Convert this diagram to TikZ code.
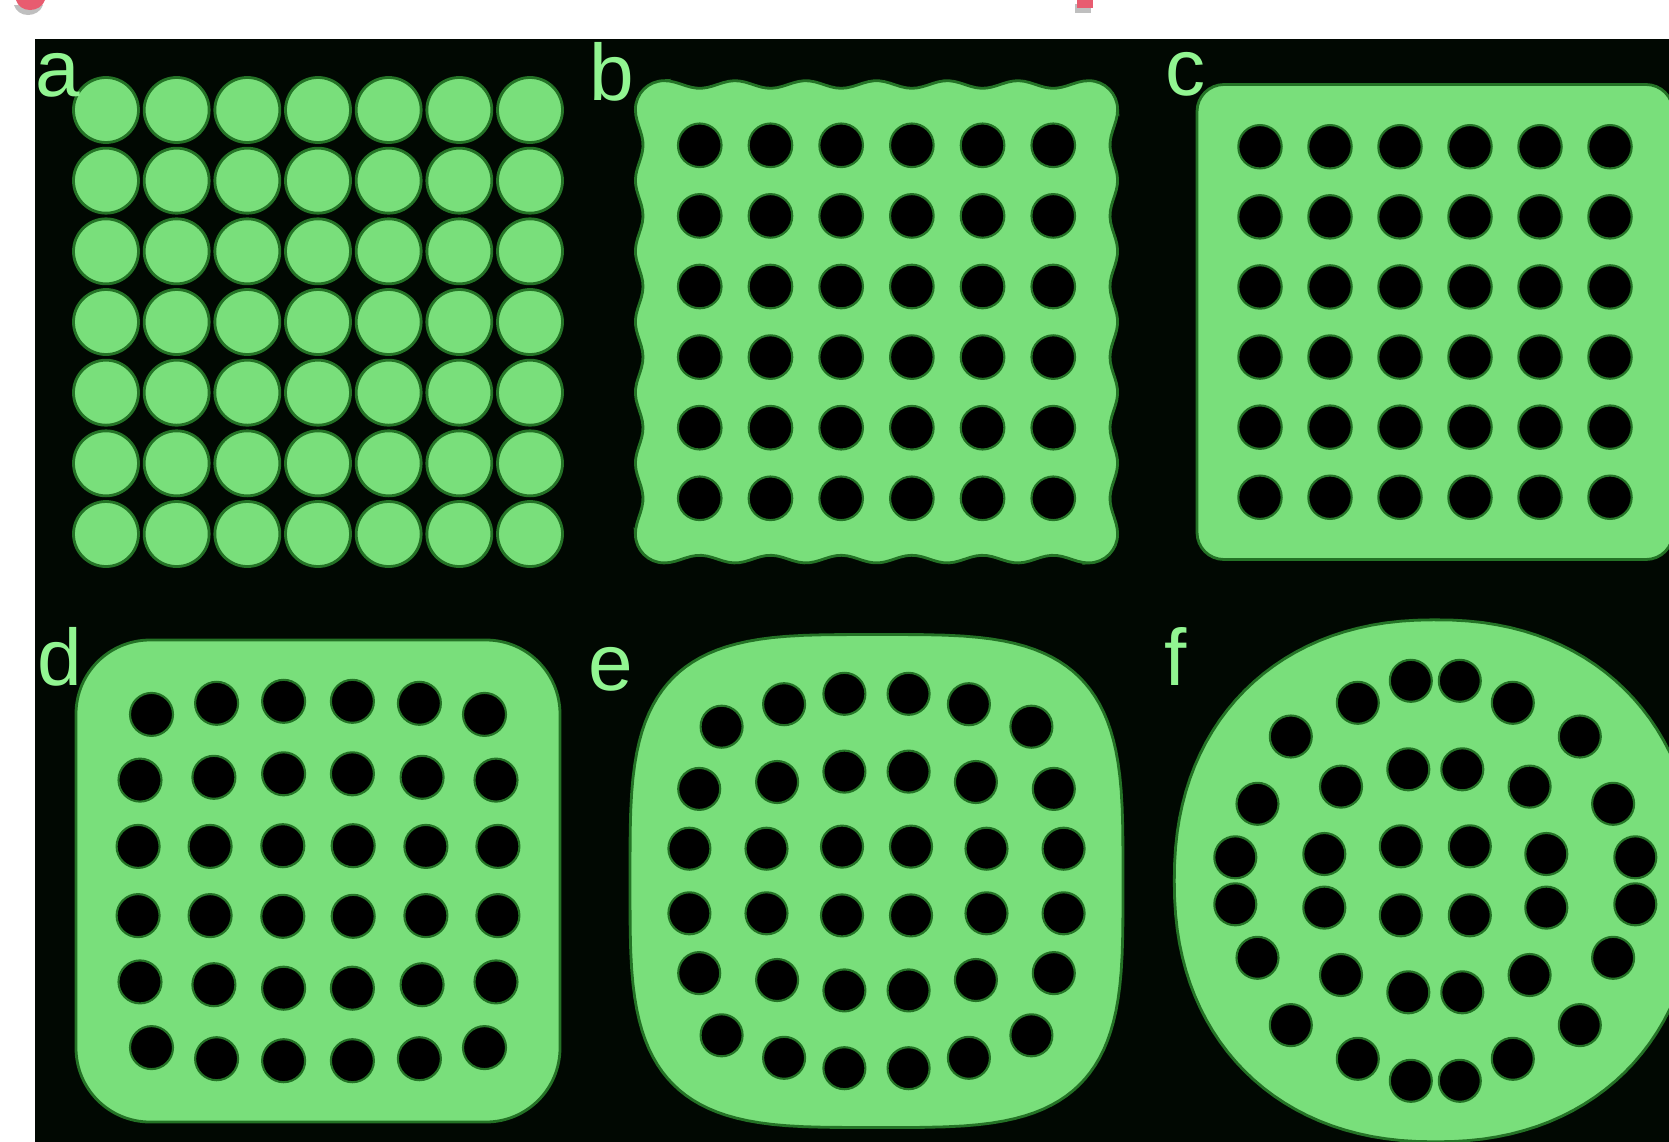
\documentclass[tikz,border=0pt]{standalone}
\usepackage{fontspec}
\setmainfont{Liberation Sans}
\usepackage{tikz}

\definecolor{leaf}{RGB}{121,223,123}
\definecolor{rim}{RGB}{36,115,38}
\definecolor{ink}{RGB}{145,245,145}
\definecolor{night}{RGB}{1,8,2}
\definecolor{rose}{RGB}{232,92,112}

% rounded blob |x/h|^n+|y/h|^n=1 around the current origin
\newcommand\superblob[2]{%
  \filldraw[blob] plot[domain=0.5:359.5,samples=121]
    ({#1*sign(cos(\x))*pow(abs(cos(\x)),2/#2)},{#1*sign(sin(\x))*pow(abs(sin(\x)),2/#2)}) -- cycle;}

\begin{document}
\begin{tikzpicture}[x=0.01cm,y=-0.01cm,
  blob/.style={fill=leaf,draw=rim,line width=0.8pt},
  hole/.style={fill=black,draw=rim,line width=0.6pt},
  lbl/.style={anchor=base west,inner sep=0pt,text=ink,font=\fontsize{22.8}{24}\selectfont}]
 \useasboundingbox (0,0) rectangle (1669,1142);
 \clip (0,0) rectangle (1669,1142);
 \fill[white] (0,0) rectangle (1669,1142);
 \fill[black,opacity=.25] (14,5) -- (43,5) .. controls (41,11) and (35,15) .. (28,15) .. controls (21,15) and (16,11) .. (14,5) -- cycle;
 \fill[rose] (16,0) -- (45,0) .. controls (43,6) and (37,10) .. (30,10) .. controls (23,10) and (18,6) .. (16,0) -- cycle;
 \fill[black,opacity=.25] (1075,4) rectangle (1091,13);
 \fill[rose] (1077,0) rectangle (1093,8.3);
 \fill[night] (35,39) rectangle (1669,1142);
 \begin{scope}[shift={(318,322)}]
  \foreach \i in {-3,...,3}
   \foreach \j in {-3,...,3}
    \filldraw[blob] ({70.67*\i},{70.67*\j}) circle (32.5);
 \end{scope}
 \begin{scope}[shift={(876.5,321.8)}]
  \filldraw[blob] plot[domain=-212.3:212.3,samples=80] (\x,{-237.3-3.8*cos(5.0919*\x)})
   arc[start angle=-90,end angle=0,radius=28.8]
   -- plot[domain=-212.3:212.3,samples=80] ({237.3+3.8*cos(5.0919*\x)},\x)
   arc[start angle=0,end angle=90,radius=28.8]
   -- plot[domain=212.3:-212.3,samples=80] (\x,{237.3+3.8*cos(5.0919*\x)})
   arc[start angle=90,end angle=180,radius=28.8]
   -- plot[domain=212.3:-212.3,samples=80] ({-237.3-3.8*cos(5.0919*\x)},\x)
   arc[start angle=180,end angle=270,radius=28.8] -- cycle;
  \foreach \i in {-2.5,-1.5,...,2.5}
   \foreach \j in {-2.5,-1.5,...,2.5}
    \filldraw[hole] ({70.7*\i},{70.6*\j}) circle (21.8);
 \end{scope}
 \begin{scope}[shift={(1435,322)}]
  \filldraw[blob,rounded corners=0.27cm] (-238,-237.5) rectangle (238,237.5);
  \foreach \i in {-2.5,-1.5,...,2.5}
   \foreach \j in {-2.5,-1.5,...,2.5}
    \filldraw[hole] ({70*\i},{70.1*\j}) circle (21.7);
 \end{scope}
 \begin{scope}[shift={(318,881)}]
  \filldraw[blob,rounded corners=0.74cm] (-242,-241) rectangle (242,241);
  \foreach \sx in {-1,1}
   \foreach \sy in {-1,1}
    \foreach \dx/\dy in {34.4/179.7,101.4/177.7,166.5/166.6,34.4/107.2,104.1/103.7,
                         178/100.9,35.2/35.3,107.9/34.6,179.9/34.6}
     \filldraw[hole] ({\sx*\dx},{\sy*\dy}) circle (21.5);
 \end{scope}
 \begin{scope}[shift={(876.5,881)}]
  \superblob{246.5}{3.6}
  \foreach \sx in {-1,1}
   \foreach \sy in {-1,1}
    \foreach \dx/\dy in {32.1/187.2,92.4/176.8,154.9/154.3,32.1/109.4,99.4/99,
                         177.3/92.1,34.5/34.4,110/32.3,187.1/32.3}
     \filldraw[hole] ({\sx*\dx},{\sy*\dy}) circle (21);
 \end{scope}
 \begin{scope}[shift={(1435.3,880.8)}]
  \superblob{261}{2.2}
  \foreach \sx in {-1,1}
   \foreach \sy in {-1,1}
    \foreach \dx/\dy in {24.5/200,77.5/178,144.5/144.3,177.8/77,200/23.5,
                         27/111.5,94.3/94.2,111/26.8,34.5/34.5}
     \filldraw[hole] ({\sx*\dx},{\sy*\dy}) circle (21);
 \end{scope}
 \node[lbl] (la) at (35,96) {a};
 \node[lbl] (lb) at (589,100) {b};
 \node[lbl] (lc) at (1165,95.5) {c};
 \node[lbl] (ld) at (37,685) {d};
 \node[lbl] (le) at (588,690) {e};
 \node[lbl] (lf) at (1164,685) {f};
\end{tikzpicture}
\end{document}
